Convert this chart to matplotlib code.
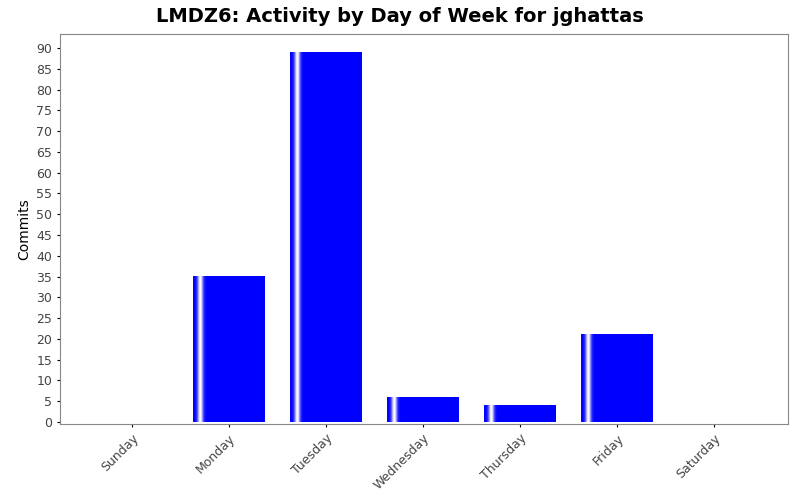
import numpy as np
import matplotlib
matplotlib.use("Agg")
import matplotlib.pyplot as plt

days = ["Sunday", "Monday", "Tuesday", "Wednesday", "Thursday", "Friday", "Saturday"]
commits = [0, 35, 89, 6, 4, 21, 0]

fig = plt.figure(figsize=(8, 5), dpi=100)
ax = fig.add_axes([0.075, 0.152, 0.91, 0.78])

# horizontal gradient: blue with a white highlight near the left edge
t = np.linspace(0, 1, 200)
white = np.exp(-((t - 0.1) / 0.04) ** 2)
grad = np.zeros((1, 200, 3))
grad[0, :, 0] = white
grad[0, :, 1] = white
grad[0, :, 2] = 1.0

width = 0.74
for i, v in enumerate(commits):
    if v <= 0:
        continue
    ax.imshow(grad, extent=(i - width / 2, i + width / 2, 0, v), aspect="auto",
              interpolation="bilinear", zorder=2)

ax.set_xlim(-0.74, 6.76)
ax.set_ylim(-0.5, 93.4)
ax.set_xticks(range(len(days)))
ax.set_xticklabels(days, rotation=45, ha="right", rotation_mode="anchor",
                   color="#444444", fontsize=9)
ax.set_yticks(range(0, 95, 5))
ax.tick_params(axis="y", labelsize=9, labelcolor="#444444", length=2)
ax.tick_params(axis="x", length=2)
ax.set_ylabel("Commits", fontsize=10)
for s in ax.spines.values():
    s.set_color("#888888")
    s.set_linewidth(0.8)
fig.suptitle("LMDZ6: Activity by Day of Week for jghattas", fontsize=14,
             fontweight="bold", y=0.985)
fig.savefig("out.png", dpi=100)
